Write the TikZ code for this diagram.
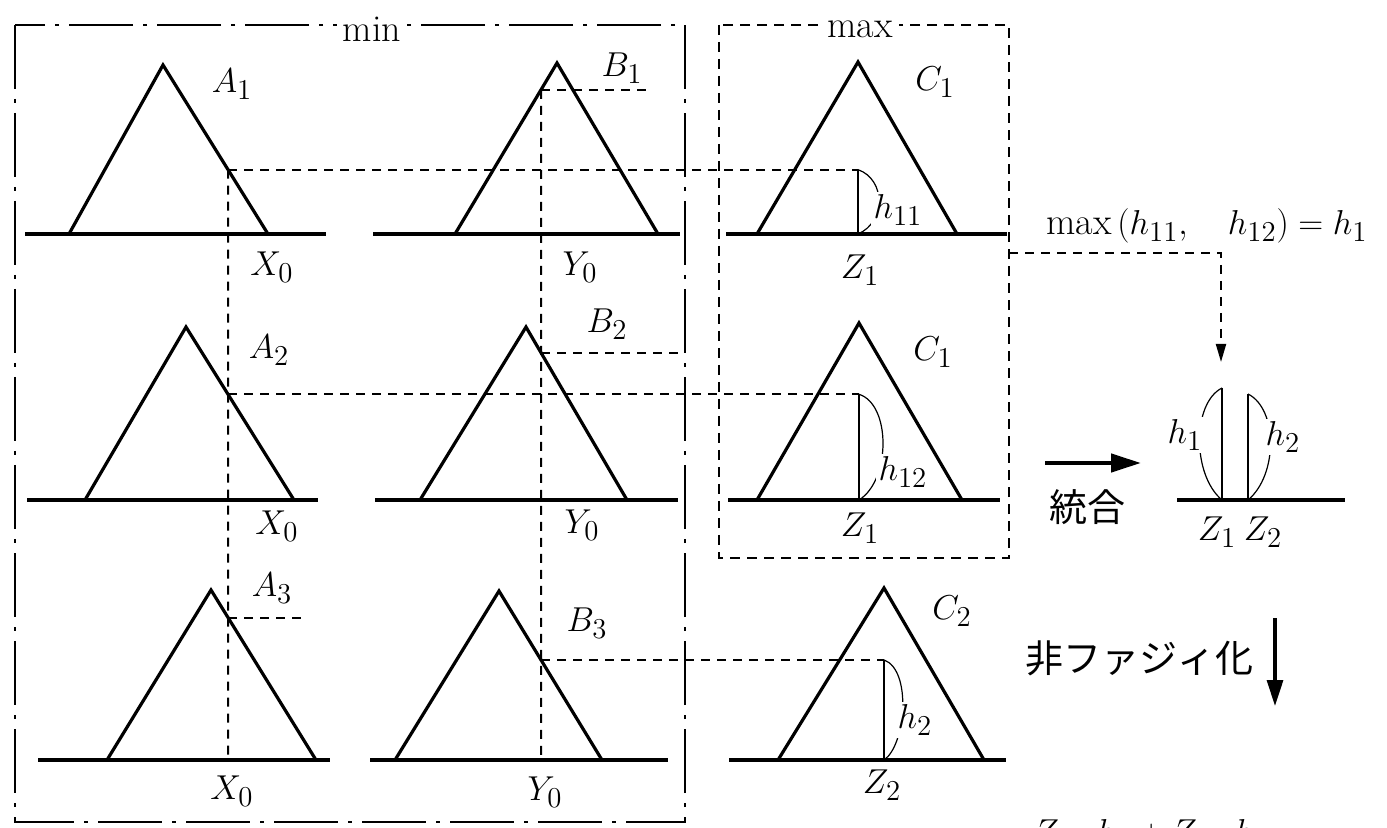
\documentclass[tikz,border=0pt]{standalone}
\usepackage{fontspec}
\newfontfamily\jpfont{Noto Sans CJK JP}
\usetikzlibrary{arrows.meta}
\begin{document}
\begin{tikzpicture}[x=0.5pt,y=-0.5pt,
  tri/.style={line width=1.6pt, line join=miter},
  axisline/.style={line width=1.6pt},
  guide/.style={line width=1pt, dash pattern=on 4.5pt off 3.5pt},
  hline/.style={line width=1.3pt},
  harc/.style={line width=0.6pt},
  lab/.style={font=\fontsize{19}{22}\selectfont, inner sep=0pt},
  hlab/.style={font=\fontsize{19}{22}\selectfont, inner sep=1.5pt, fill=white},
  minbox/.style={line width=1pt, dash pattern=on 32pt off 5pt on 2pt off 5pt},
  maxbox/.style={line width=1pt, dash pattern=on 5pt off 3.5pt},
  jplab/.style={font=\jpfont\fontsize{19}{22}\selectfont, inner sep=0pt}]
\useasboundingbox (0,0) rectangle (1387,828);
\clip (0,0) rectangle (1387,828);

% ---------- frames ----------
\draw[minbox] (15,25) rectangle (685,822);
\node[lab, fill=white, inner xsep=3pt, inner ysep=1pt] (minlab) at (372,29) {min};
\draw[maxbox] (719,25) rectangle (1009,558);
\node[lab, fill=white, inner xsep=3pt, inner ysep=1pt] (maxlab) at (860,29) {max};

% ---------- reference verticals ----------
\coordinate (X0a) at (228,0);   \coordinate (X0b) at (228,828);
\coordinate (Y0a) at (541,0);   \coordinate (Y0b) at (541,828);
\coordinate (X0bot) at (228,760); \coordinate (Y0bot) at (541,760);

% ---------- row 1 ----------
\coordinate (A1l) at (69,234);  \coordinate (A1t) at (163,65);  \coordinate (A1r) at (268,234);
\coordinate (B1l) at (455,234); \coordinate (B1t) at (557,63);  \coordinate (B1r) at (658,234);
\coordinate (C1l) at (757,234); \coordinate (C1t) at (858,62);  \coordinate (C1r) at (957,234);
\draw[axisline] (25,234) -- (326,234);
\draw[axisline] (373,234) -- (680,234);
\draw[axisline] (726,234) -- (1007,234);
\draw[tri] (A1l) -- (A1t) -- (A1r);
\draw[tri] (B1l) -- (B1t) -- (B1r);
\draw[tri] (C1l) -- (C1t) -- (C1r);
\coordinate (p1) at (intersection of A1t--A1r and X0a--X0b);
\coordinate (q1) at (intersection of B1l--B1t and Y0a--Y0b);

% ---------- row 2 ----------
\coordinate (A2l) at (85,500);  \coordinate (A2t) at (186,327); \coordinate (A2r) at (294,500);
\coordinate (B2l) at (420,500); \coordinate (B2t) at (526,327); \coordinate (B2r) at (627,500);
\coordinate (D1l) at (757,500); \coordinate (D1t) at (859,323); \coordinate (D1r) at (962,500);
\draw[axisline] (27,500) -- (318,500);
\draw[axisline] (375,500) -- (678,500);
\draw[axisline] (728,500) -- (1000,500);
\draw[tri] (A2l) -- (A2t) -- (A2r);
\draw[tri] (B2l) -- (B2t) -- (B2r);
\draw[tri] (D1l) -- (D1t) -- (D1r);
\coordinate (p2) at (intersection of A2t--A2r and X0a--X0b);
\coordinate (q2) at (intersection of B2t--B2r and Y0a--Y0b);

% ---------- row 3 ----------
\coordinate (A3l) at (107,760); \coordinate (A3t) at (211,590); \coordinate (A3r) at (316,760);
\coordinate (B3l) at (395,760); \coordinate (B3t) at (499,591); \coordinate (B3r) at (602,760);
\coordinate (C2l) at (778,760); \coordinate (C2t) at (884,588); \coordinate (C2r) at (984,760);
\draw[axisline] (38,760) -- (330,760);
\draw[axisline] (370,760) -- (668,760);
\draw[axisline] (729,760) -- (1006,760);
\draw[tri] (A3l) -- (A3t) -- (A3r);
\draw[tri] (B3l) -- (B3t) -- (B3r);
\draw[tri] (C2l) -- (C2t) -- (C2r);
\coordinate (p3) at (intersection of A3t--A3r and X0a--X0b);
\coordinate (q3) at (intersection of B3t--B3r and Y0a--Y0b);

% ---------- dashed guides ----------
\draw[guide] (p1) -- (X0bot);
\draw[guide] (q1) -- (Y0bot);
\draw[guide] (p1) -- (p1 -| C1t);
\draw[guide] (q1) -- ++(111,0);
\draw[guide] (p2) -- (p2 -| D1t);
\draw[guide] (q2) -- ++(144,0);
\draw[guide] (p3) -- ++(78,0);
\draw[guide] (q3) -- (q3 -| C2t);

% ---------- heights ----------
\coordinate (h11t) at (p1 -| C1t); \coordinate (h11b) at (C1t |- C1l);
\coordinate (h12t) at (p2 -| D1t); \coordinate (h12b) at (D1t |- D1l);
\coordinate (h2t)  at (q3 -| C2t); \coordinate (h2b)  at (C2t |- C2l);
\draw[hline] (h11t) -- (h11b);
\draw[hline] (h12t) -- (h12b);
\draw[hline] (h2t) -- (h2b);
\draw[harc] (h11t) .. controls +(28,10) and +(28,-12) .. (h11b);
\draw[harc] (h12t) .. controls +(32,10) and +(32,-20) .. (h12b);
\draw[harc] (h2t) .. controls +(28,10) and +(22,-15) .. (h2b);
\node[hlab] (h11) at (898,210) {$h_{11}$};
\node[hlab] (h12) at (903,472) {$h_{12}$};
\node[hlab] (h2lab) at (915,720) {$h_{2}$};

% ---------- labels ----------
\node[lab] (la1) at (232,84) {$A_1$};
\node[lab] (lb1) at (622,68) {$B_1$};
\node[lab] (lc1) at (935,82) {$C_1$};
\node[lab] (lx1) at (272,267) {$X_0$};
\node[lab] (ly1) at (580,267) {$Y_0$};
\node[lab] (lz1) at (860,270) {$Z_1$};

\node[lab] (la2) at (269,350) {$A_2$};
\node[lab] (lb2) at (607,324) {$B_2$};
\node[lab] (lc2) at (933,352) {$C_1$};
\node[lab] (lx2) at (277,526) {$X_0$};
\node[lab] (ly2) at (582,525) {$Y_0$};
\node[lab] (lz2) at (860,528) {$Z_1$};

\node[lab] (la3) at (272,588) {$A_3$};
\node[lab] (lb3) at (587,623) {$B_3$};
\node[lab] (lc3) at (952,611) {$C_2$};
\node[lab] (lx3) at (232,791) {$X_0$};
\node[lab] (ly3) at (545,792) {$Y_0$};
\node[lab] (lz3) at (882,785) {$Z_2$};

% ---------- right side ----------
\node[lab] (maxeq) at (1207,226) {$\mathrm{max}\,(h_{11},\ \ \ h_{12})=h_1$};
\coordinate (elbowA) at (1009,253);
\coordinate (elbowB) at (1221,253);
\coordinate (elbowC) at (1221,362);
\draw[guide, -{Triangle[length=9pt,width=5pt]}] (elbowA) -- (elbowB) -- (elbowC);

\coordinate (intA) at (1045,463);
\coordinate (intB) at (1141,463);
\draw[line width=2.2pt, -{Triangle[length=15pt,width=9pt]}] (intA) -- (intB);
\node[jplab] (tougou) at (1087,507) {統合};

\draw[axisline] (1177,500) -- (1345,500);
\coordinate (r1t) at (1222,388); \coordinate (r1b) at (1222,500);
\coordinate (r2t) at (1248,394); \coordinate (r2b) at (1248,500);
\draw[hline] (r1t) -- (r1b);
\draw[hline] (r2t) -- (r2b);
\draw[harc] (r1t) .. controls +(-30,15) and +(-30,-25) .. (r1b);
\draw[harc] (r2t) .. controls +(30,15) and +(30,-25) .. (r2b);
\node[hlab] (rh1) at (1185,435) {$h_1$};
\node[hlab] (rh2) at (1283,437) {$h_2$};
\node[lab] (rz1) at (1217,532) {$Z_1$};
\node[lab] (rz2) at (1263,532) {$Z_2$};

\node[jplab] (defuzz) at (1139,658) {非ファジィ化};
\coordinate (dfA) at (1275,618);
\coordinate (dfB) at (1275,706);
\draw[line width=1.6pt, -{Triangle[length=13pt,width=8pt]}] (dfA) -- (dfB);

\node[lab, anchor=north west] (result) at (1033,819) {$Z_1\cdot h_1+Z_2\cdot h_2$};
\end{tikzpicture}
\end{document}
